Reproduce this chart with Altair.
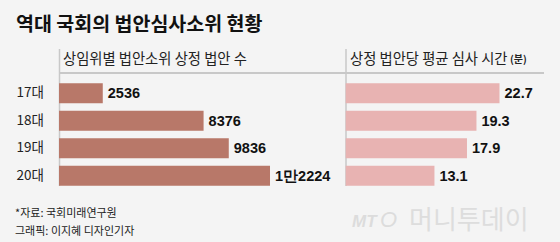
import altair as alt
import pandas as pd

categories = ["17대", "18대", "19대", "20대"]
bills = [2536, 8376, 9836, 12224]
bill_labels = ["2536", "8376", "9836", "1만2224"]
minutes = [22.7, 19.3, 17.9, 13.1]
minute_labels = ["22.7", "19.3", "17.9", "13.1"]

title = "역대 국회의 법안심사소위 현황"
left_header = "상임위별 법안소위 상정 법안 수"
right_header = "상정 법안당 평균 심사 시간"
right_unit = "(분)"
source_lines = ["*자료: 국회미래연구원", "그래픽: 이지혜 디자인기자"]

df = pd.DataFrame({
    "cat": categories,
    "bills": bills,
    "bill_label": bill_labels,
    "minutes": minutes,
    "minute_label": minute_labels,
})

KFONT = "Noto Sans CJK KR"
NFONT = "Liberation Sans"

yscale = alt.Scale(domain=categories, range=[79.55, 189.55], paddingInner=0.273, paddingOuter=0.136)
xl = alt.Scale(range=[59, 270], nice=False, zero=True)
xr = alt.Scale(range=[345.7, 499.5], nice=False, zero=True)

base = alt.Chart(df)
Y = alt.Y("cat:N", scale=yscale, axis=None, sort=categories)

left_bars = base.mark_bar(color="#b87869").encode(
    x=alt.X("bills:Q", scale=xl, axis=None), y=Y)
left_text = base.mark_text(align="left", baseline="middle", dx=5, dy=1, font=NFONT,
                           fontWeight="bold", fontSize=14.5, color="#111111").encode(
    x=alt.X("bills:Q", scale=xl, axis=None), y=Y, text="bill_label:N")
right_bars = base.mark_bar(color="#e8b3b2").encode(
    x=alt.X("minutes:Q", scale=xr, axis=None), y=Y)
right_text = base.mark_text(align="left", baseline="middle", dx=5, dy=1, font=NFONT,
                            fontWeight="bold", fontSize=14.5, color="#111111").encode(
    x=alt.X("minutes:Q", scale=xr, axis=None), y=Y, text="minute_label:N")
cat_text = base.mark_text(align="right", baseline="middle", font=KFONT,
                          fontSize=13.5, color="#222222").encode(
    x=alt.value(44), y=Y, text="cat:N")

one = pd.DataFrame({"k": [0]})
hline = alt.Chart(one).mark_rule(color="#c8c8c8", strokeWidth=2).encode(
    x=alt.value(59), x2=alt.value(544), y=alt.value(73))
vline_l = alt.Chart(one).mark_rule(color="#c8c8c8", strokeWidth=1.5).encode(
    x=alt.value(59.5), y=alt.value(49), y2=alt.value(186))
vline_r = alt.Chart(one).mark_rule(color="#c8c8c8", strokeWidth=1.5).encode(
    x=alt.value(346), y=alt.value(49), y2=alt.value(186))


def label(text, x, y, size, weight="normal", color="#222222", font=KFONT, align="left", style="normal"):
    return alt.Chart(pd.DataFrame({"t": [text]})).mark_text(
        align=align, baseline="alphabetic", font=font, fontSize=size,
        fontWeight=weight, color=color, fontStyle=style).encode(
        x=alt.value(x), y=alt.value(y), text="t:N")


layers = [
    hline, vline_l, vline_r,
    left_bars, left_text, right_bars, right_text, cat_text,
    label(title, 16, 31, 19.5, "bold", "#111111"),
    label(left_header, 63, 64, 14.3),
    label(right_header, 350, 64, 14.3),
    label(right_unit, 510, 63, 10, "bold"),
    label(source_lines[0], 15, 217, 11),
    label(source_lines[1], 15, 235, 11),
    label("MT", 352, 227, 17, "bold", "#dcdcdc", "Liberation Sans", style="italic"),
    label("O", 380, 227, 22, "normal", "#dcdcdc", "Liberation Sans", style="italic"),
    label("머니투데이", 409, 229, 26, "normal", "#dddddd"),
]

chart = alt.layer(*layers).resolve_scale(x="independent").properties(
    width=560, height=242, padding=0, autosize=alt.AutoSizeParams(type="none"),
    background="#f4f4f4",
).configure_view(stroke=None)

chart.save("out.html", embed_options={"renderer": "svg", "actions": False})
